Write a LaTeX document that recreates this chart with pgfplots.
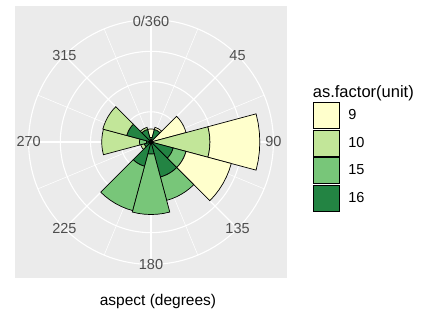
\documentclass[border=0pt]{standalone}
\usepackage{pgfplots}
\pgfplotsset{compat=1.18}
\usepackage{pgfplotstable}
\usepackage{fontspec}
\setmainfont{Liberation Sans}
\definecolor{c9}{HTML}{FFFFCC}
\definecolor{c10}{HTML}{C2E699}
\definecolor{c15}{HTML}{78C679}
\definecolor{c16}{HTML}{238443}
\definecolor{panelgray}{HTML}{EBEBEB}
\definecolor{ticktext}{HTML}{4D4D4D}

% counts per 30-degree direction bin (bearing of bin centre), by unit
\pgfplotstableread{
dir  n16  n15  n10  n9
0    0    0    1.5  2.8
30   4.3  0    0    0.7
60   0    0    0    12
90   0.5  0    19   16.5
120  7.6  4.4  0    15.5
150  12   8    0    0
180  4    20   0    0
210  8.3  15.2 0    0
240  2.3  0    1.2  0
270  1.5  2.3  12.5 0
300  8.3  0    8.2  0
330  4.3  0    0.7  0
}\rosedata

% one stacked piece of a wind-rose bar: bearing, inner radius, outer radius, colour
\newcommand\sector[4]{%
  \gdef\secpts{}%
  \foreach \k in {0,...,6}{\pgfmathsetmacro\secang{105-#1-5*\k}\xdef\secpts{\secpts (\secang,#3)}}%
  \foreach \k in {6,5,...,0}{\pgfmathsetmacro\secang{105-#1-5*\k}\xdef\secpts{\secpts (\secang,#2)}}%
  \edef\sectemp{\noexpand\addplot[fill=#4,draw=black,line width=0.7pt,data cs=polar,forget plot] coordinates {\secpts} --cycle;}%
  \sectemp
}

\begin{document}
\begin{tikzpicture}
\useasboundingbox (0,0) rectangle (421pt,315pt);
\begin{scope}[shift={(151pt,173pt)}]
  \fill[panelgray] (-136pt,-136pt) rectangle (136pt,136pt);
  \foreach \r in {30.22,60.44,90.67,122.4} \draw[white,line width=1.1pt] (0,0) circle[radius=\r pt];
  \foreach \b in {0,45,...,315} \draw[white,line width=1.1pt] (0,0) -- ({90-\b}:122.4pt);
  \foreach \b in {22.5,67.5,...,337.5} \draw[white,line width=0.55pt] (0,0) -- ({90-\b}:122.4pt);
  \begin{scope}[every node/.style={text=ticktext,font=\fontsize{14.5}{14.5}\selectfont,inner sep=0pt}]
    \node at (90:121pt) {0/360};
    \node at (45:122.4pt) {45};
    \node at (0:122.4pt) {90};
    \node at (-45:122.4pt) {135};
    \node at (-90:122.4pt) {180};
    \node at (-135:122.4pt) {225};
    \node at (180:122.4pt) {270};
    \node at (135:122.4pt) {315};
  \end{scope}
\end{scope}
\begin{axis}[
  at={(151pt,173pt)}, anchor=center,
  scale only axis, width=272pt, height=272pt,
  xmin=-45, xmax=45, ymin=-45, ymax=45,
  hide axis, clip=false,
  legend image code/.code={\draw[#1] (0pt,-13pt) rectangle (26pt,13pt);},
  legend cell align=left,
  legend style={at={(1.0945,0.647)}, anchor=north west, draw=none, fill=none,
    inner sep=0pt, outer sep=0pt, row sep=1pt,
    nodes={inner sep=0pt, font=\fontsize{14.5}{14.5}\selectfont},
    /tikz/every odd column/.append style={column sep=9pt}},
]
\foreach \i in {0,...,11}{%
  \pgfplotstablegetelem{\i}{dir}\of\rosedata \let\vDir\pgfplotsretval
  \pgfplotstablegetelem{\i}{n16}\of\rosedata \let\vA\pgfplotsretval
  \pgfplotstablegetelem{\i}{n15}\of\rosedata \let\vB\pgfplotsretval
  \pgfplotstablegetelem{\i}{n10}\of\rosedata \let\vC\pgfplotsretval
  \pgfplotstablegetelem{\i}{n9}\of\rosedata \let\vD\pgfplotsretval
  \pgfmathsetmacro\rA{\vA}%
  \pgfmathsetmacro\rB{\rA+\vB}%
  \pgfmathsetmacro\rC{\rB+\vC}%
  \pgfmathsetmacro\rD{\rC+\vD}%
  \ifdim\vA pt>0pt \sector{\vDir}{0}{\rA}{c16}\fi
  \ifdim\vB pt>0pt \sector{\vDir}{\rA}{\rB}{c15}\fi
  \ifdim\vC pt>0pt \sector{\vDir}{\rB}{\rC}{c10}\fi
  \ifdim\vD pt>0pt \sector{\vDir}{\rC}{\rD}{c9}\fi
}
\addlegendimage{fill=c9,draw=black,line width=0.6pt}\addlegendentry{9}
\addlegendimage{fill=c10,draw=black,line width=0.6pt}\addlegendentry{10}
\addlegendimage{fill=c15,draw=black,line width=0.6pt}\addlegendentry{15}
\addlegendimage{fill=c16,draw=black,line width=0.6pt}\addlegendentry{16}
\end{axis}
\node[anchor=base west,inner sep=0pt,font=\fontsize{16.5}{16.5}\selectfont] at (312.7pt,217pt) {as.factor(unit)};
\node[inner sep=0pt,font=\fontsize{15.5}{15.5}\selectfont] at (158pt,14pt) {aspect (degrees)};
\end{tikzpicture}
\end{document}
